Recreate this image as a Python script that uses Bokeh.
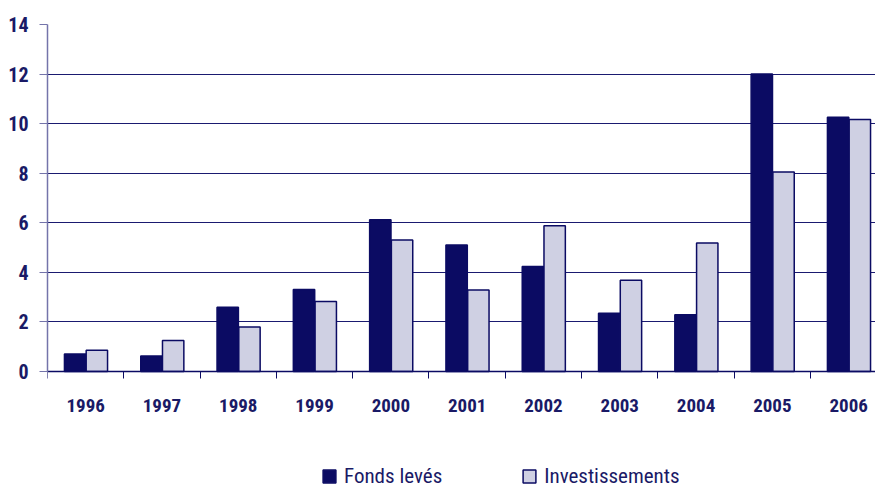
import numpy as np
from bokeh.plotting import figure
from bokeh.models import (ColumnDataSource, Range1d, FixedTicker, Legend, LegendItem,
                          LinearAxis)
from bokeh.transform import dodge
from bokeh.embed import file_html
from bokeh.resources import INLINE

years = ["1996", "1997", "1998", "1999", "2000", "2001", "2002", "2003", "2004", "2005", "2006"]
fonds_leves = [0.71, 0.63, 2.59, 3.31, 6.12, 5.10, 4.24, 2.35, 2.29, 12.0, 10.26]
investissements = [0.86, 1.25, 1.80, 2.82, 5.31, 3.29, 5.88, 3.68, 5.18, 8.05, 10.17]
y_ticks = [0, 2, 4, 6, 8, 10, 12, 14]

NAVY = "#0b0b63"
LIGHT = "#cfd0e3"
TEXT = "#1a1a66"
AXIS = "#7474aa"
FONT = "Roboto Condensed"

pos = np.arange(len(years)) + 0.5
src = ColumnDataSource(dict(x=pos, fonds=fonds_leves, inv=investissements))

p = figure(width=875, height=488, output_backend="svg", toolbar_location=None,
           x_range=Range1d(0, 10.852), y_range=Range1d(-4.72, 14),
           x_axis_location=None,
           min_border_left=47, min_border_right=0, min_border_top=24, min_border_bottom=0)
p.outline_line_color = None

r1 = p.vbar(x=dodge("x", -0.138, range=p.x_range), top="fonds", width=0.28, source=src,
            fill_color=NAVY, line_color=NAVY, line_width=1.5)
r2 = p.vbar(x=dodge("x", 0.147, range=p.x_range), top="inv", width=0.28, source=src,
            fill_color=LIGHT, line_color=NAVY, line_width=1.5)

p.xgrid.grid_line_color = None
p.ygrid.ticker = FixedTicker(ticks=y_ticks)
p.ygrid.grid_line_color = "#1a1a70"
p.ygrid.grid_line_width = 1
p.ygrid.level = "underlay"

p.yaxis.ticker = FixedTicker(ticks=y_ticks)
p.yaxis.bounds = (0, 14)
p.yaxis.axis_line_color = AXIS
p.yaxis.axis_line_width = 1.5
p.yaxis.major_tick_line_color = AXIS
p.yaxis.major_tick_out = 8
p.yaxis.major_tick_in = 0
p.yaxis.minor_tick_line_color = None
p.yaxis.major_label_standoff = 11
p.yaxis.major_label_text_font = FONT
p.yaxis.major_label_text_font_size = "20px"
p.yaxis.major_label_text_font_style = "bold"
p.yaxis.major_label_text_color = TEXT

xaxis = LinearAxis(fixed_location=0,
                   ticker=FixedTicker(ticks=list(pos), minor_ticks=list(range(0, len(years)))),
                   major_label_overrides={float(v): y for v, y in zip(pos, years)})
xaxis.axis_line_color = NAVY
xaxis.axis_line_width = 1.5
xaxis.major_tick_line_color = None
xaxis.minor_tick_line_color = NAVY
xaxis.minor_tick_out = 7
xaxis.minor_tick_in = 0
xaxis.major_label_standoff = 20
xaxis.major_label_text_font = FONT
xaxis.major_label_text_font_size = "19px"
xaxis.major_label_text_font_style = "bold"
xaxis.major_label_text_color = TEXT
p.add_layout(xaxis, "below")

legend = Legend(items=[LegendItem(label="Fonds levés", renderers=[r1]),
                       LegendItem(label="Investissements", renderers=[r2])],
                orientation="horizontal", location=(274, 0),
                padding=0, margin=0, spacing=79, label_standoff=7,
                glyph_width=16, glyph_height=16, label_height=16,
                border_line_color=None, background_fill_alpha=0,
                label_text_font=FONT, label_text_font_size="21px",
                label_text_color=TEXT)
p.add_layout(legend, "center")

open("out.html", "w").write(file_html(p, INLINE))
